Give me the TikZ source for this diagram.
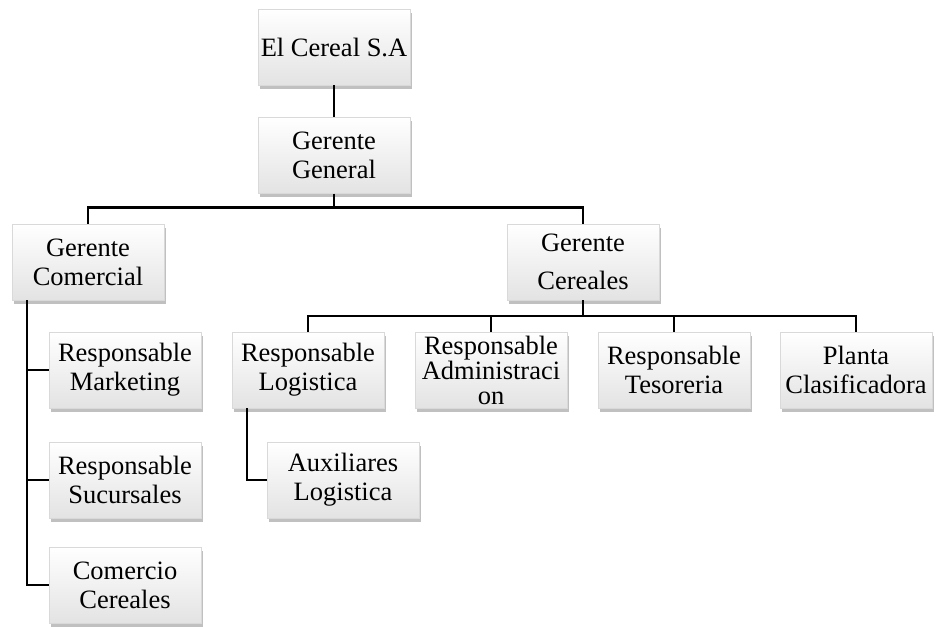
\documentclass[tikz,border=0pt]{standalone}
\usepackage{fontspec}
\setmainfont{Liberation Serif}
\usepackage{tikz}
\usetikzlibrary{positioning,shadows}

\tikzset{
  unit/.style={draw=gray!30, top color=white, bottom color=gray!22,
    minimum width=152pt, minimum height=76pt,
    align=center, inner sep=2pt, font=\fontsize{26.5}{29}\selectfont,
    drop shadow={shadow xshift=2pt, shadow yshift=-4pt, opacity=0.55, fill=gray!90}},
  link/.style={line width=2.4pt}
}

\begin{document}
\begin{tikzpicture}[x=1pt, y=1pt, node distance=32pt]
  \useasboundingbox (0,0) rectangle (936,-626);
  \node[unit] at (334,-47)
      (empresa)   {El Cereal S.A};
  \node[unit, below=of empresa]
      (general)   {Gerente\\General};
  \node[unit] at (88,-262)
      (comercial) {Gerente\\Comercial};
  \node[unit] at (583,-262)
      (cereales)  {Gerente\\[9pt]Cereales};
  \node[unit] at (125,-370)
      (marketing) {Responsable\\Marketing};
  \node[unit] at (125,-480)
      (sucursales) {Responsable\\Sucursales};
  \node[unit] at (125,-585)
      (comercio)  {Comercio\\Cereales};
  \node[unit] at (308,-370)
      (logistica) {Responsable\\Logistica};
  \node[unit, inner ysep=0pt, font=\fontsize{26.5}{25}\selectfont] at (491,-370)
      (administracion) {Responsable\\Administraci\\on};
  \node[unit] at (674,-370)
      (tesoreria) {Responsable\\Tesoreria};
  \node[unit] at (856,-370)
      (planta)    {Planta\\Clasificadora};
  \node[unit] at (343,-480)
      (auxiliares) {Auxiliares\\Logistica};
  \draw[link] (empresa) -- (general);
  \draw[link] (general.south) -- ++(0,-14) coordinate (split);
  \draw[link] (split) -| (comercial.north);
  \draw[link] (split) -| (cereales.north);
  \coordinate (bus) at ([yshift=-16pt]cereales.south);
  \draw[link] (cereales.south) -- (bus);
  \foreach \n in {logistica,administracion,tesoreria,planta}
    \draw[link] (bus) -| (\n.north);
  \foreach \n in {marketing,sucursales,comercio}
    \draw[link] ([xshift=15pt]comercial.south west) |- (\n.west);
  \draw[link] ([xshift=15pt]logistica.south west) |- (auxiliares.west);
\end{tikzpicture}
\end{document}
